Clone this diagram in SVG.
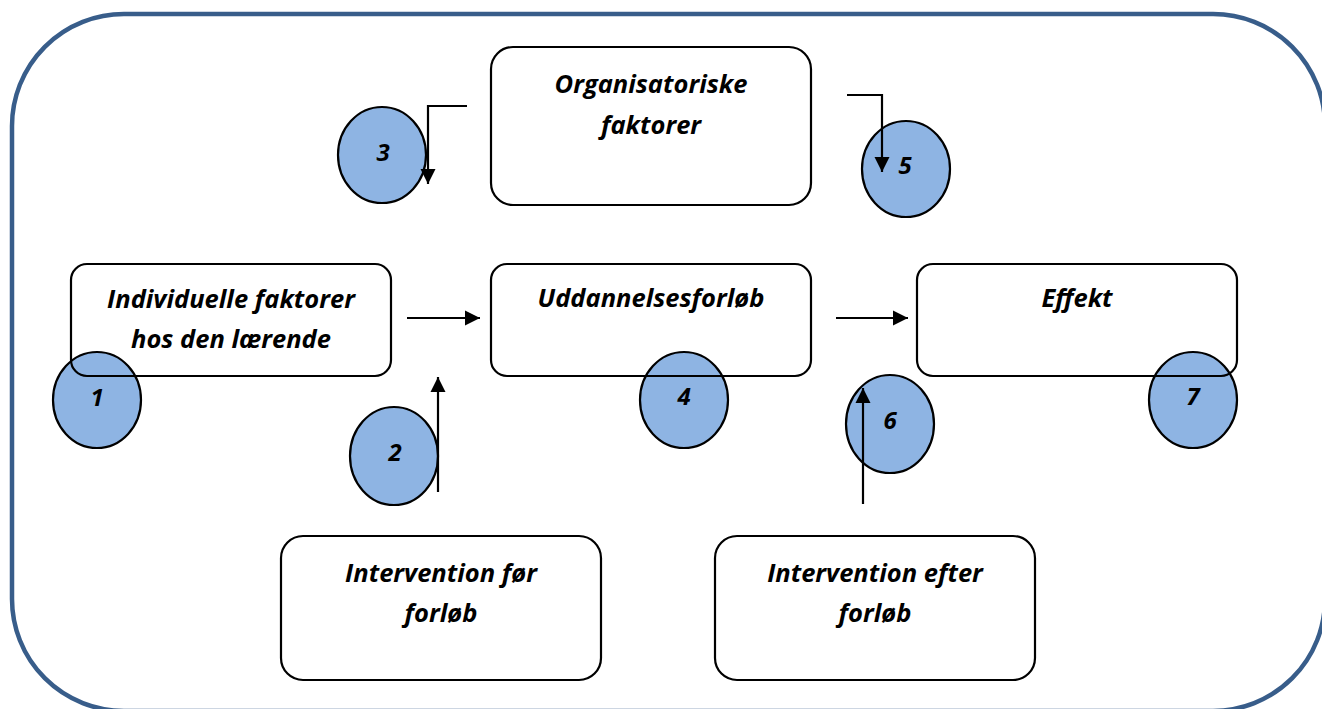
<svg xmlns="http://www.w3.org/2000/svg" width="1322" height="709" viewBox="0 0 1322 709">
<defs>
<style>
.box{fill:none;stroke:#000;stroke-width:2.2}
.circ{fill:#8EB4E3;stroke:#000;stroke-width:2.2}
.t{font-family:"Open Sans","Liberation Sans",sans-serif;font-weight:bold;font-style:italic;font-size:25.5px;fill:#000;text-anchor:middle}
.n{font-family:"Open Sans","Liberation Sans",sans-serif;font-weight:bold;font-style:italic;font-size:24px;fill:#000;text-anchor:middle}
.c{fill:none;stroke:#000;stroke-width:2.2}
</style>
<marker id="ah" viewBox="0 0 10 10" refX="10" refY="5" markerWidth="7" markerHeight="7" markerUnits="strokeWidth" orient="auto">
<path d="M0,0 L10,5 L0,10 z" fill="#000"/>
</marker>
</defs>
<rect width="1322" height="709" fill="#fff"/>
<rect id="frame" x="12" y="14" width="1313" height="697" rx="112" ry="112" fill="none" stroke="#385D8A" stroke-width="4.5"/>

<g id="c1"><ellipse class="circ" cx="97" cy="400" rx="44" ry="48"/><text class="n" x="97" y="406">1</text></g>
<g id="c2"><ellipse class="circ" cx="394" cy="456" rx="44" ry="49"/><text class="n" x="395" y="461">2</text></g>
<g id="c3"><ellipse class="circ" cx="382" cy="155" rx="44" ry="48"/><text class="n" x="383" y="161">3</text></g>
<g id="c4"><ellipse class="circ" cx="684" cy="400" rx="44" ry="48"/><text class="n" x="684" y="405">4</text></g>
<g id="c5"><ellipse class="circ" cx="906" cy="169" rx="44" ry="48"/><text class="n" x="905" y="174">5</text></g>
<g id="c6"><ellipse class="circ" cx="890" cy="424" rx="44" ry="49"/><text class="n" x="890" y="429">6</text></g>
<g id="c7"><ellipse class="circ" cx="1193" cy="400" rx="44" ry="48"/><text class="n" x="1193" y="405">7</text></g>

<g id="organisatoriske"><rect class="box" x="491" y="47" width="320" height="158" rx="22"/><text class="t" x="651" y="93">Organisatoriske</text><text class="t" x="651" y="134">faktorer</text></g>
<g id="individuelle"><rect class="box" x="71" y="264" width="320" height="112" rx="16"/><text class="t" x="231" y="308">Individuelle faktorer</text><text class="t" x="231" y="348">hos den lærende</text></g>
<g id="uddannelse"><rect class="box" x="491" y="264" width="320" height="112" rx="16"/><text class="t" x="651" y="307">Uddannelsesforløb</text></g>
<g id="effekt"><rect class="box" x="917" y="264" width="320" height="112" rx="16"/><text class="t" x="1077" y="307">Effekt</text></g>
<g id="interventionFoer"><rect class="box" x="281" y="536" width="320" height="144" rx="22"/><text class="t" x="441" y="582">Intervention før</text><text class="t" x="441" y="622">forløb</text></g>
<g id="interventionEfter"><rect class="box" x="715" y="536" width="320" height="144" rx="22"/><text class="t" x="875" y="582">Intervention efter</text><text class="t" x="875" y="622">forløb</text></g>

<g id="connectors">
<polyline class="c" points="467,106 428,106 428,184" marker-end="url(#ah)"/>
<polyline class="c" points="847,95 882,95 882,172" marker-end="url(#ah)"/>
<line class="c" x1="407" y1="318" x2="480" y2="318" marker-end="url(#ah)"/>
<line class="c" x1="836" y1="318" x2="908" y2="318" marker-end="url(#ah)"/>
<line class="c" x1="438" y1="492" x2="438" y2="377" marker-end="url(#ah)"/>
<line class="c" x1="863" y1="504" x2="863" y2="388" marker-end="url(#ah)"/>
</g>
</svg>
